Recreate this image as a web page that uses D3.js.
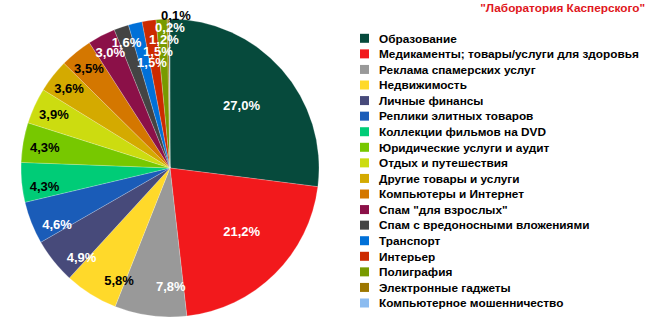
<!DOCTYPE html>
<html>
<head>
<meta charset="utf-8">
<script src="https://cdn.jsdelivr.net/npm/d3@7"></script>
<style>
  html, body { margin: 0; padding: 0; background: #fff; }
  svg { display: block; font-family: "Liberation Sans", Arial, sans-serif; }
</style>
</head>
<body>
<svg id="chart" width="650" height="325"></svg>
<script>
// Spam categories and their share of all spam, %
const categories = [
  "Образование",
  "Медикаменты; товары/услуги для здоровья",
  "Реклама спамерских услуг",
  "Недвижимость",
  "Личные финансы",
  "Реплики элитных товаров",
  "Коллекции фильмов на DVD",
  "Юридические услуги и аудит",
  "Отдых и путешествия",
  "Другие товары и услуги",
  "Компьютеры и Интернет",
  "Спам \"для взрослых\"",
  "Спам с вредоносными вложениями",
  "Транспорт",
  "Интерьер",
  "Полиграфия",
  "Электронные гаджеты",
  "Компьютерное мошенничество"
];
const shares = [27.0, 21.2, 7.8, 5.8, 4.9, 4.6, 4.3, 4.3, 3.9, 3.6, 3.5, 3.0, 1.6, 1.5, 1.5, 1.2, 0.2, 0.1];
const valueLabels = ["27,0%", "21,2%", "7,8%", "5,8%", "4,9%", "4,6%", "4,3%", "4,3%", "3,9%", "3,6%", "3,5%", "3,0%", "1,6%", "1,5%", "1,5%", "1,2%", "0,2%", "0,1%"];
const colors = [
  "#064a3c", "#f2191c", "#999999", "#ffd92a", "#474a7a", "#1a5cb8",
  "#00cc77", "#77c800", "#ccdc10", "#d4aa00", "#d47700", "#8b1048",
  "#444444", "#0070d8", "#cc2a00", "#789a00", "#9c7600", "#8cbcf0"
];
const darkLabelSlices = new Set([3, 6, 7, 8, 9, 10]);
const title = "\"Лаборатория Касперского\"";

const svg = d3.select("#chart");
const cx = 170, cy = 168, R = 149;

const data = categories.map((name, i) => ({ name, value: shares[i], label: valueLabels[i], color: colors[i], i }));

const pie = d3.pie().value(d => d.value).sort(null);
const arcs = pie(data);
const arc = d3.arc().innerRadius(0).outerRadius(R);

const g = svg.append("g").attr("transform", `translate(${cx},${cy})`);

g.selectAll("path.slice")
  .data(arcs)
  .enter().append("path")
  .attr("class", "slice")
  .attr("d", arc)
  .attr("fill", d => d.data.color)
  .attr("stroke", "rgba(255,255,255,0.35)")
  .attr("stroke-width", 0.6);

// Value labels: large slices nearer the middle, smaller ones toward the rim;
// labels in the lower half lean slightly back toward the start of their slice
const deg = Math.PI / 180;
function labelPos(d) {
  const v = d.data.value;
  const k = v >= 10 ? 0.64 : (0.92 - 0.016 * v);
  let a = (d.startAngle + d.endAngle) / 2;
  a -= 8 * deg * Math.max(0, Math.cos(a - 195 * deg));
  return [Math.sin(a) * R * k, -Math.cos(a) * R * k];
}

// The thin slices at the top get their labels stacked up along a diagonal
const firstStacked = 13;
const stackBase = (() => {
  const a = arcs[firstStacked].endAngle;
  return [Math.sin(a) * R * 0.72 + 2, -Math.cos(a) * R * 0.72];
})();

const positions = arcs.map((d, i) => {
  if (i < firstStacked) return labelPos(d);
  const step = i - firstStacked;
  return [stackBase[0] + step * 6, stackBase[1] - step * 11.8];
});

g.selectAll("text.val")
  .data(arcs)
  .enter().append("text")
  .attr("class", "val")
  .attr("x", (d, i) => positions[i][0])
  .attr("y", (d, i) => positions[i][1])
  .attr("dy", "0.36em")
  .attr("text-anchor", "middle")
  .attr("font-size", "13px")
  .attr("font-weight", "bold")
  .attr("fill", (d, i) => (darkLabelSlices.has(i) || i === arcs.length - 1) ? "#000" : "#fff")
  .text(d => d.data.label);

// Title
svg.append("text")
  .attr("x", 645)
  .attr("y", 12)
  .attr("text-anchor", "end")
  .attr("font-size", "11.8px")
  .attr("font-weight", "bold")
  .attr("fill", "#e0161c")
  .text(title);

// Legend
const legendY = d3.scalePoint().domain(d3.range(categories.length)).range([38.3, 303]);
const legend = svg.append("g");
const rows = legend.selectAll("g.row")
  .data(data)
  .enter().append("g")
  .attr("class", "row")
  .attr("transform", d => `translate(0,${legendY(d.i)})`);

rows.append("rect")
  .attr("x", 360)
  .attr("y", -4.5)
  .attr("width", 9)
  .attr("height", 9)
  .attr("fill", d => d.color);

rows.append("text")
  .attr("x", 379)
  .attr("y", 0)
  .attr("dy", "0.36em")
  .attr("font-size", "11.8px")
  .attr("font-weight", "bold")
  .attr("fill", "#000")
  .text(d => d.name);
</script>
</body>
</html>
